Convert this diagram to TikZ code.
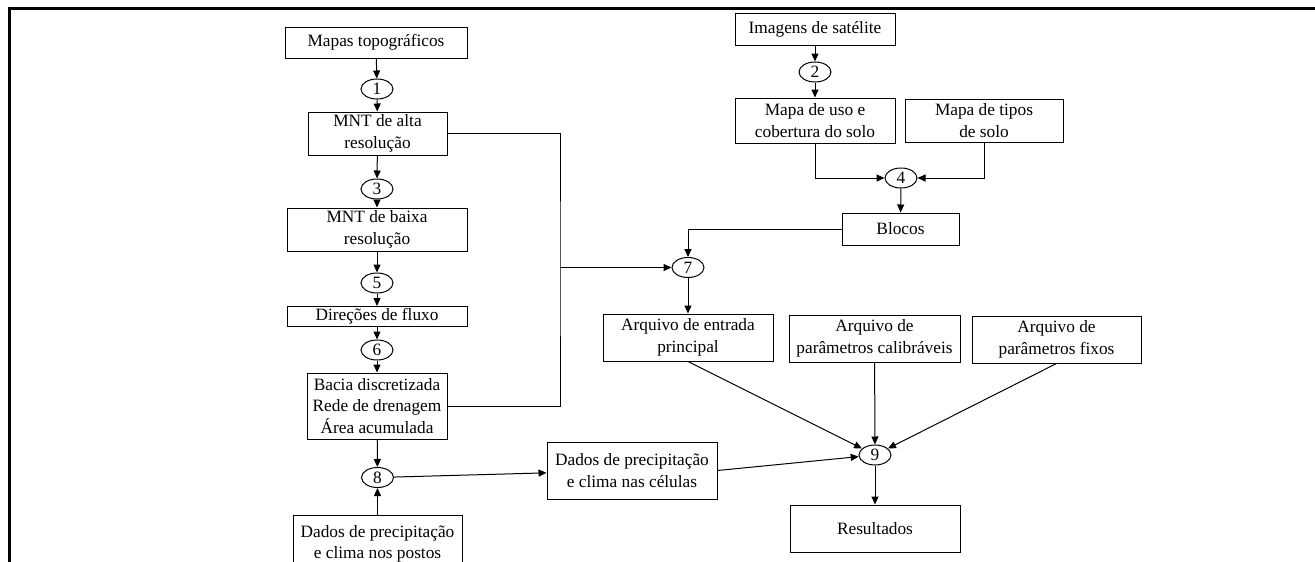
\documentclass[tikz,border=0pt]{standalone}
\usepackage{fontspec}
\setmainfont{Liberation Serif}
\usetikzlibrary{arrows.meta,shapes.geometric}
\begin{document}
\begin{tikzpicture}[x=1pt,y=-1pt,
  txt/.style={font=\fontsize{17.3}{21.5}\selectfont},
  box/.style={draw,line width=1pt,inner sep=0pt,align=center,txt},
  num/.style={draw,ellipse,line width=1pt,inner sep=0pt,minimum width=32pt,minimum height=20pt,txt},
  arr/.style={line width=1pt,-{Triangle[length=8pt,width=7pt]}},
  ln/.style={line width=1pt}]
\clip (0,0) rectangle (1315,562);
% frame
\draw[line width=2.5pt] (9.5,570) -- (9.5,8.5) -- (1320,8.5);
% left column
\node[box,minimum width=182pt,minimum height=31pt] (topo) at (376,42.5) {Mapas topográficos};
\node[num] (n1) at (377,89) {1};
\node[box,minimum width=139pt,minimum height=43pt] (alta) at (377.5,133.5) {MNT de alta\\resolução};
\node[num] (n3) at (377,189) {3};
\node[box,minimum width=180pt,minimum height=43pt] (baixa) at (377,229.5) {MNT de baixa\\resolução};
\node[num] (n5) at (377,283) {5};
\node[box,minimum width=180pt,minimum height=20pt] (dir) at (377,316.5) {Direções de fluxo};
\node[num] (n6) at (377,350) {6};
\node[box,minimum width=140pt,minimum height=66pt] (bacia) at (377,406) {Bacia discretizada\\Rede de drenagem\\Área acumulada};
\node[num] (n8) at (377.5,477.5) {8};
\node[box,minimum width=169pt,minimum height=57pt] (postos) at (377.5,544) {Dados de precipitação\\e clima nos postos};
% right part
\node[box,minimum width=160pt,minimum height=32pt] (sat) at (815,29) {Imagens de satélite};
\node[num] (n2) at (815,72) {2};
\node[box,minimum width=160pt,minimum height=45pt] (uso) at (815,120.5) {Mapa de uso e\\cobertura do solo};
\node[box,minimum width=158pt,minimum height=43pt] (tipos) at (984,120.5) {Mapa de tipos\\de solo};
\node[num] (n4) at (901,178) {4};
\node[box,minimum width=117pt,minimum height=32pt] (blocos) at (900.5,229) {Blocos};
\node[num] (n7) at (688,267.5) {7};
\node[box,minimum width=170pt,minimum height=47pt] (ent) at (688,337.5) {Arquivo de entrada\\principal};
\node[box,minimum width=171pt,minimum height=47pt] (cal) at (874.5,338.5) {Arquivo de\\parâmetros calibráveis};
\node[box,minimum width=169pt,minimum height=47pt] (fix) at (1056.5,339.5) {Arquivo de\\parâmetros fixos};
\node[box,minimum width=170pt,minimum height=57pt] (cel) at (632,470.5) {Dados de precipitação\\e clima nas células};
\node[num] (n9) at (875,455) {9};
\node[box,minimum width=170pt,minimum height=47pt] (res) at (875,528.5) {Resultados};
% connectors
\draw[arr] (topo) -- (n1);
\draw[arr] (n1) -- (alta);
\draw[arr] (alta) -- (n3);
\draw[arr] (n3) -- (baixa);
\draw[arr] (baixa) -- (n5);
\draw[arr] (n5) -- (dir);
\draw[arr] (dir) -- (n6);
\draw[arr] (n6) -- (bacia);
\draw[arr] (bacia) -- (n8);
\draw[arr] (postos) -- (n8);
\draw[arr] (sat) -- (n2);
\draw[arr] (n2) -- (uso);
\draw[arr] (uso.south) |- (n4.west);
\draw[arr] (tipos.south) |- (n4.east);
\draw[arr] (n4) -- (blocos);
\draw[arr] (blocos.west) -| (n7.north);
\coordinate (j) at (560,267.5);
\draw[ln] (alta.east) -| (j) |- (bacia.east);
\draw[arr] (j) -- (n7.west);
\draw[arr] (n7) -- (ent);
\draw[arr] (ent.south) -- (n9);
\draw[arr] (cal) -- (n9);
\draw[arr] (fix.south) -- (n9);
\draw[arr] (n8) -- (cel);
\draw[arr] (cel.east) -- (n9);
\draw[arr] (n9) -- (res);
\end{tikzpicture}
\end{document}
